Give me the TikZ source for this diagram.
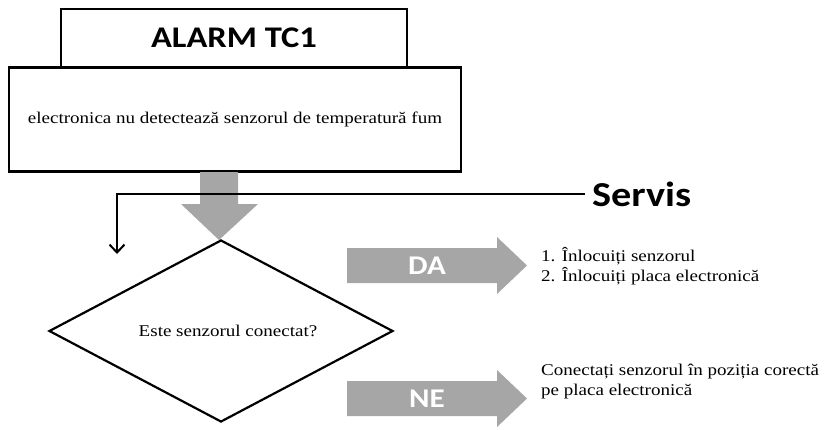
\documentclass[tikz,border=0pt]{standalone}
\usepackage{fontspec}
\setmainfont[FakeStretch=1.16]{Liberation Serif}
\newfontfamily\headfont[FakeStretch=1.15]{Carlito}
\usepackage{tikz}
\usetikzlibrary{arrows.meta,shapes.geometric,positioning}
\definecolor{arrowgray}{RGB}{166,166,166}

\begin{document}
\begin{tikzpicture}[x=1pt,y=-1pt,
  box/.style={draw,line width=2.6pt,inner sep=0pt},
  txt/.style={font=\rmfamily\fontsize{16.4}{20}\selectfont},
  head/.style={font=\headfont\bfseries\fontsize{#1}{#1}\selectfont,inner sep=0pt},
  tag/.style={head=27,text=white}]
\useasboundingbox (0,0) rectangle (831,429);

\node[box,minimum width=452pt,minimum height=104pt,txt] (fault) at (235,119.5)
  {electronica nu detectează senzorul de temperatură fum};
\node[box,minimum width=346pt,minimum height=58pt,head=30] (alarm) at (234,38)
  {\raisebox{-4pt}{ALARM TC1}};

% big gray arrow
\fill[arrowgray] (200,172) -- (200,204) -- (181,204) -- (219,240) -- (258,204)
  -- (238,204) -- (238,172) -- cycle;

\node[draw,diamond,line width=2.2pt,aspect=1.89,minimum width=344pt,
  minimum height=182pt,inner sep=0pt,txt] (check) at (221,331)
  {\hspace*{14pt}Este senzorul conectat?};

% service line
\node[head=35,anchor=west,inner xsep=7pt] (servis) at (585,194) {Servis};
\coordinate (enter) at (117,254);
\draw[line width=2pt,-{Straight Barb[length=8pt,width=15pt]}] (servis.west) -| (enter);

% DA / NE
\fill[arrowgray] (347,248) -- (497,248) -- (497,237) -- (527,265.5) -- (497,294)
  -- (497,283) -- (347,283) -- cycle;
\node[tag] (da) at (427,266) {DA};
\fill[arrowgray] (347,381) -- (497,381) -- (497,370) -- (527,398.5) -- (497,427)
  -- (497,416) -- (347,416) -- cycle;
\node[tag] (ne) at (427,399) {NE};

\node[txt,anchor=west,align=left,inner sep=0pt] (fixda) at (541,266)
  {1. Înlocuiți senzorul\\2. Înlocuiți placa electronică};
\node[txt,anchor=west,align=left,inner sep=0pt] (fixne) at (541,382)
  {Conectați senzorul în poziția corectă\\pe placa electronică};
\end{tikzpicture}
\end{document}
